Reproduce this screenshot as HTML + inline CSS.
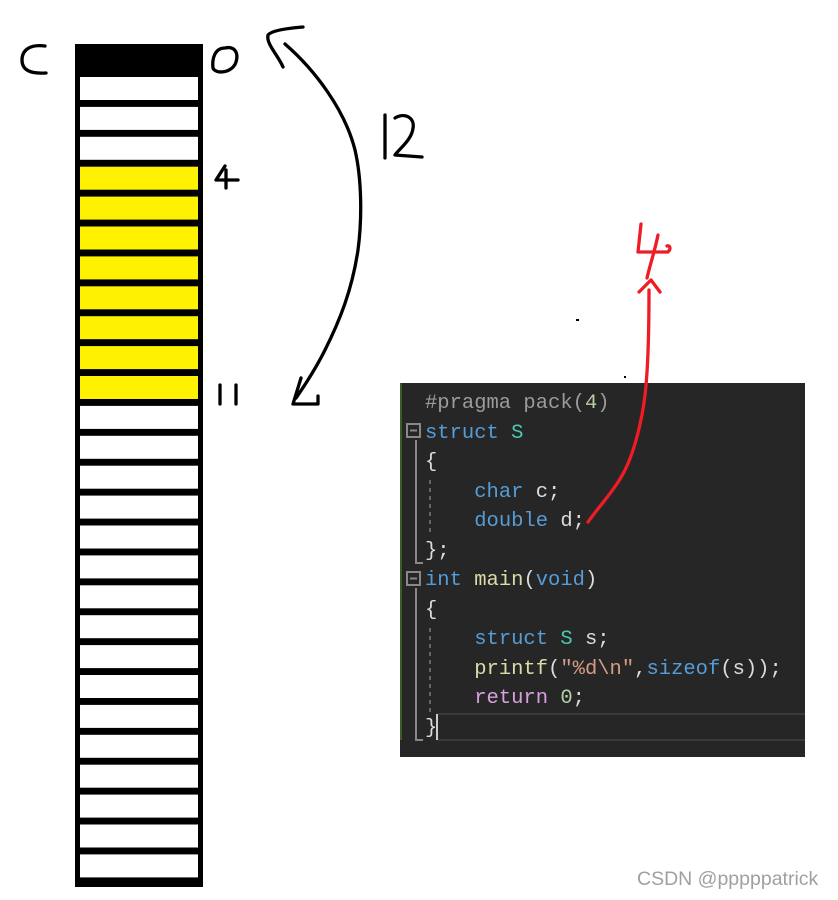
<!DOCTYPE html>
<html><head><meta charset="utf-8"><style>
body{margin:0;width:838px;height:900px;background:#fff;position:relative;overflow:hidden;font-family:"Liberation Sans",sans-serif}
#code{position:absolute;left:400px;top:383px;width:405px;height:374px;background:#262626}
.ln{position:absolute;left:425px;font:20.5px/1 "Liberation Mono",monospace;color:#dcdcdc;white-space:pre}
.k{color:#569cd6}.t{color:#4ec9b0}.f{color:#dcdcaa}.s{color:#d69d85}.p{color:#d8a0df}.n{color:#b5cea8}.g{color:#9b9b9b}
#wm{position:absolute;left:637px;top:868px;font-size:19.5px;color:#a0a0a0}
</style></head><body>
<div id="code"></div>
<div class="ln g" style="top:394px">#pragma pack(<span class="n">4</span>)</div>
<div class="ln" style="top:424px"><span class="k">struct</span> <span class="t">S</span></div>
<div class="ln" style="top:453px">{</div>
<div class="ln" style="top:483px">    <span class="k">char</span> c;</div>
<div class="ln" style="top:512px">    <span class="k">double</span> d;</div>
<div class="ln" style="top:542px">};</div>
<div class="ln" style="top:571px"><span class="k">int</span> <span class="f">main</span>(<span class="k">void</span>)</div>
<div class="ln" style="top:601px">{</div>
<div class="ln" style="top:630px">    <span class="k">struct</span> <span class="t">S</span> s;</div>
<div class="ln" style="top:660px">    <span class="f">printf</span>(<span class="s">"%d\n"</span>,<span class="k">sizeof</span>(s));</div>
<div class="ln" style="top:689px">    <span class="p">return</span> <span class="n">0</span>;</div>
<div class="ln" style="top:719px">}</div>
<svg width="838" height="900" style="position:absolute;left:0;top:0">
<g fill="none" stroke="#888" stroke-width="2">
<rect x="407" y="424" width="13" height="13"/><line x1="410" y1="430.5" x2="417" y2="430.5"/>
<rect x="407" y="572" width="13" height="13"/><line x1="410" y1="578.5" x2="417" y2="578.5"/>
<polyline points="416,440 416,563 423,563"/>
<polyline points="416,588 416,740 423,740"/>
<line x1="430" y1="480" x2="430" y2="535" stroke-dasharray="4,4" stroke="#666"/>
<line x1="430" y1="628" x2="430" y2="712" stroke-dasharray="4,4" stroke="#666"/>
<line x1="438" y1="714" x2="805" y2="714" stroke="#3a3a3a"/>
<line x1="438" y1="740" x2="805" y2="740" stroke="#3a3a3a"/>
<line x1="437" y1="714" x2="437" y2="740" stroke="#ccc"/>
</g>
<line x1="401" y1="383" x2="401" y2="740" stroke="#3c5a2c" stroke-width="2"/>
<rect x="75" y="44" width="128" height="843" fill="#000"/>
<g id="cells"></g>
<g fill="none" stroke="#000" stroke-width="3.3" stroke-linecap="round" stroke-linejoin="round">
<path d="M45,46 C30,44 22,50 22,60 C22,70 30,74 46,73"/>
<path d="M225,48 C214,48 212,60 213,68 C215,74 232,74 236,62 C239,52 234,46 225,48"/>
<path d="M225,166 L216,180 L238,180 M226,170 L226,188"/>
<path d="M220,385 L220,404 M236,385 L236,404"/>
<path d="M385,115 L385,158 M395,118 C405,112 415,118 413,128 C412,140 398,150 395,155 L422,157"/>
<path d="M285,44 C315,70 345,110 355,150 C362,180 362,220 358,250 C352,290 340,320 325,350 C315,370 305,385 296,398"/>
<path d="M303,27 C290,28 272,30 268,35 C266,44 278,55 283,67"/>
<path d="M301,378 L293,404 L318,404 L318,396"/>
</g>
<g fill="none" stroke="#ee1c24" stroke-width="3.3" stroke-linecap="round" stroke-linejoin="round">
<path d="M641,224 L638,252 L668,252 C672,248 669,245 667,246"/>
<path d="M658,235 C655,250 650,265 647,278"/>
<path d="M588,522 C600,505 615,490 625,470 C635,450 642,420 645,395 C648,370 649,330 649,290"/>
<path d="M639,292 L651,280 L660,292"/>
</g>
<rect x="576" y="319" width="3" height="2" fill="#000"/>
<rect x="624" y="376" width="2" height="2" fill="#000"/>
</svg>
<div id="wm">CSDN @pppppatrick</div>
<script>
var g=document.getElementById('cells'),s='';
for(var i=0;i<27;i++){var y=77+i*29.9;var c=(i>=3&&i<=10)?'#fff200':'#fff';s+='<rect x="80" y="'+(y).toFixed(1)+'" width="118" height="23" fill="'+c+'"/>';}
g.innerHTML=s;
</script>
</body></html>
